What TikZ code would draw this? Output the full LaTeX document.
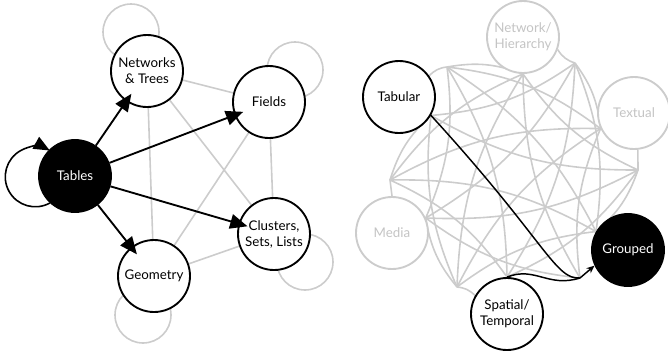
\documentclass[tikz,border=0pt]{standalone}
\usepackage{fontspec}
\setmainfont{Lato}
\usetikzlibrary{arrows.meta,backgrounds}

\definecolor{lightline}{HTML}{CCCCCC}
\definecolor{lighttext}{HTML}{C4C4C4}

\tikzset{
	vnode/.style={circle, draw=black, line width=1.4pt, fill=white, minimum size=54pt,
		inner sep=0pt, align=center, font=\fontsize{10}{12}\selectfont},
	vfocus/.style={vnode, fill=black, text=white},
	vfaded/.style={vnode, draw=lightline, text=lighttext},
	faint/.style={draw=lightline, line width=1.2pt},
	bigarrow/.style={line width=1.4pt, -{Triangle[length=13pt,width=11pt]}, shorten >=-7pt},
	loopback/.style={line width=1.2pt, -{Triangle[length=12pt,width=10pt]}},
	darkline/.style={line width=1.1pt, draw=black},
}

\begin{document}
\begin{tikzpicture}[x=0.75pt,y=-0.75pt]
	\useasboundingbox (0,0) rectangle (668,351);
	
	% left graph
	\node[vfocus] (tables) at (75,176) {Tables};
	\node[vnode] (networks) at (147,71) {Networks\\\& Trees};
	\node[vnode] (fields) at (269,102) {Fields};
	\node[vnode] (clusters) at (274,234) {Clusters,\\Sets, Lists};
	\node[vnode] (geometry) at (154,276) {Geometry};
	
	\begin{scope}[on background layer]
		\foreach \x/\y in {131/32, 295/70, 305/262, 143/315}
			\draw[faint] (\x,\y) circle[radius=21pt];
		\draw[faint] (networks) -- (fields) (networks) -- (geometry) (networks) -- (clusters)
			(fields) -- (geometry) (fields) -- (clusters) (geometry) -- (clusters);
	\end{scope}
	
	\draw[bigarrow] (tables) -- (networks);
	\draw[bigarrow] (tables) -- (fields);
	\draw[bigarrow] (tables) -- (clusters);
	\draw[bigarrow] (tables) -- (geometry);
	\draw[loopback] (tables.227) arc[start angle=-61, end angle=-299, radius=22.5pt];
	
	% right graph
	\node[vnode] (tabular) at (399,97) {Tabular};
	\node[vfaded] (network) at (523,37) {Network/\\Hierarchy};
	\node[vfaded] (textual) at (634,113) {Textual};
	\node[vfocus] (grouped) at (628,250) {Grouped};
	\node[vnode] (spatial) at (507,314) {Spatial/\\Temporal};
	\node[vfaded] (media) at (392,233) {Media};
	
	\coordinate (tab-out) at (tabular.-30);
	\coordinate (net-out) at (network.south);
	\coordinate (tex-out) at (textual.205);
	\coordinate (grp-out) at (grouped.150);
	\coordinate (spa-out) at (spatial.north);
	\coordinate (med-out) at (media.24);
	\coordinate (tab-in) at (447,67);
	\coordinate (net-in) at (575,63);
	\coordinate (tex-in) at (638,170);
	\coordinate (grp-in) at (580,278);
	\coordinate (spa-in) at (457,287);
	\coordinate (med-in) at (390,180);
	
	\begin{scope}[on background layer]
		\foreach \a/\i in {tab/1,net/2,tex/3,grp/4,spa/5,med/6}
			\foreach \b/\j in {tab/1,net/2,tex/3,grp/4,spa/5,med/6} {
				\pgfmathtruncatemacro\noedge{(\i==\j)||(\j==4&&(\i==1||\i==5))}
				\ifnum\noedge=0
					\draw[faint] (\a-out) to[bend right=15] (\b-in);
				\fi
			}
		\draw[faint] (tab-in) to[bend right=20] (tabular.35);
		\draw[faint] (net-in) to[bend left=20] (network.-20);
		\draw[faint] (tex-in) -- (textual.-84);
		\draw[faint] (spa-in) to[bend left=20] (spatial.150);
		\draw[faint] (med-in) -- (media.north);
		\draw[darkline] (tab-out) .. controls (545,240) and (555,280) .. (grp-in);
		\draw[darkline] (spa-out) .. controls (535,266) and (548,288) .. (grp-in);
	\end{scope}
	\draw[darkline, -{Stealth[length=6pt,width=5pt]}] (grp-in) -- (grouped.205);
	
\end{tikzpicture}
\end{document}
